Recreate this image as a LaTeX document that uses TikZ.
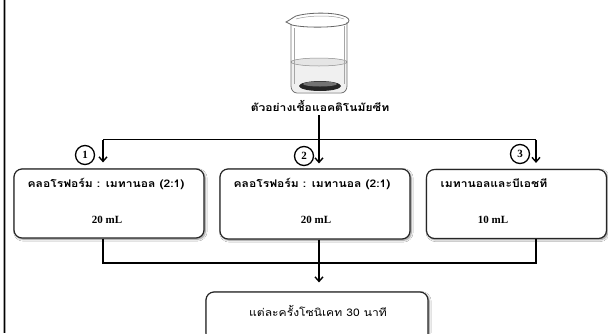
\documentclass[tikz,border=0pt]{standalone}
\usepackage{fontspec}
\setmainfont{Liberation Serif}
\newfontfamily\thai[Script=Thai, FakeStretch=1.15]{Loma}
\usetikzlibrary{arrows.meta,shadows.blur,calc}

\tikzset{
  flowbox/.style={draw=black!85, line width=1.2pt, rounded corners=8pt, fill=white,
    blur shadow={shadow xshift=1.3pt, shadow yshift=-1.3pt, shadow blur steps=6, shadow opacity=45}},
  boxtext/.style={inner sep=0pt, anchor=base, font=\thai\bfseries\fontsize{10.5}{12}\selectfont},
  numtext/.style={inner sep=0pt, anchor=base, font=\bfseries\fontsize{11}{12}\selectfont},
  stepnum/.style={draw, circle, line width=1.3pt, minimum size=19pt, inner sep=0pt,
    font=\bfseries\fontsize{11}{12}\selectfont},
  link/.style={line width=1.4pt, draw=black},
  flowarrow/.style={link, -{Straight Barb[length=4.5pt,width=8pt,line width=1.4pt]}},
}

\begin{document}
\begin{tikzpicture}[x=1pt,y=-1pt]
\useasboundingbox (0,0) rectangle (608,333);
\fill[white] (0,0) rectangle (608,333);

% page edge on the left
\draw[line width=2.6pt, black!35] (4.6,0) -- (4.6,333);
\draw[line width=1.6pt, black] (4.6,0) -- (4.6,333);

% ---- beaker ----
% liquid
\fill[black!6] (291,62) arc[start angle=180, end angle=360, x radius=28, y radius=4]
  -- (347,86) to[out=90, in=0] (343,92) -- (295,92) to[out=180, in=90] (291,86) -- cycle;
\fill[black!10] (319,62) ellipse[x radius=28, y radius=4];
\draw[black!45, line width=0.5pt] (319,62) ellipse[x radius=28, y radius=4];
% sediment
\fill[black!85] (320,86) ellipse[x radius=21, y radius=5];
\fill[black!55] (320,84) ellipse[x radius=17, y radius=2.5];
% glass body
\draw[black!55, line width=0.8pt]
  (291,24) -- (291,86) to[out=-90, in=180] (297,93) -- (341,93) to[out=0, in=-90] (347,86) -- (347,22);
\draw[black!35, line width=0.5pt] (294,28) -- (294,84);
\draw[black!35, line width=0.5pt] (344,26) -- (344,84);
% rim with spout
\draw[black!60, line width=0.8pt]
  (286,22) .. controls (290,20) and (292,18) .. (296,16)
  .. controls (310,12) and (336,12) .. (346,17)
  .. controls (350,19) and (350,22) .. (346,24)
  .. controls (336,28) and (304,28) .. (292,25)
  .. controls (290,24) and (288,23) .. (286,22) -- cycle;
\draw[black!40, line width=0.5pt] (296,19) .. controls (310,15) and (334,15) .. (344,19);

\node[boxtext] (sample) at (320,111) {ตัวอย่างเชื้อแอคติโนมัยซีท};

% ---- boxes ----
\node[flowbox, minimum width=190pt, minimum height=69pt] (b1) at (109,203.5) {};
\node[flowbox, minimum width=190pt, minimum height=70pt] (b2) at (315,204) {};
\node[flowbox, minimum width=180pt, minimum height=69pt] (b3) at (516.5,204) {};
\node[flowbox, minimum width=222pt, minimum height=60pt] (b4) at (317,322) {};

\node[boxtext] (t1) at (106,187) {คลอโรฟอร์ม : เมทานอล (2:1)};
\node[numtext] (v1) at (107,223) {20 mL};
\node[boxtext] (t2) at (312,187) {คลอโรฟอร์ม : เมทานอล (2:1)};
\node[numtext] (v2) at (316,223) {20 mL};
\node[boxtext] (t3) at (494,187) {เมทานอลและบีเอชที};
\node[numtext] (v3) at (493,223) {10 mL};
\node[inner sep=0pt, anchor=base, font=\thai\fontsize{10.5}{12}\selectfont] (t4) at (318,316) {แต่ละครั้งโซนิเคท 30 นาที};

% ---- connectors ----
\coordinate (split) at (319,139.5);
\coordinate (splitL) at (103,139.5);
\coordinate (splitR) at (536,139.5);
\draw[link] ($(sample.south -| split)+(0,4)$) -- (split);
\draw[link] (splitL) -- (splitR);
\draw[flowarrow] (split) -- ($(split |- b2.north)+(0,-5)$);
\draw[flowarrow] (splitL) -- ($(splitL |- b1.north)+(0,-6)$);
\draw[flowarrow] (splitR) -- ($(splitR |- b3.north)+(0,-6)$);

\coordinate (joinL) at (103,263);
\coordinate (joinR) at (536,263);
\coordinate (join) at (319,263);
\draw[link] (joinL |- b1.south) -- (joinL) -- (joinR) -- (joinR |- b3.south);
\draw[link] (join |- b2.south) -- (join);
\draw[flowarrow] (join) -- ($(join |- b4.north)+(0,-9)$);

% ---- step numbers ----
\node[stepnum] (n1) at (85,155) {1};
\node[stepnum] (n2) at (304,156) {2};
\node[stepnum] (n3) at (520,154) {3};
\end{tikzpicture}
\end{document}
